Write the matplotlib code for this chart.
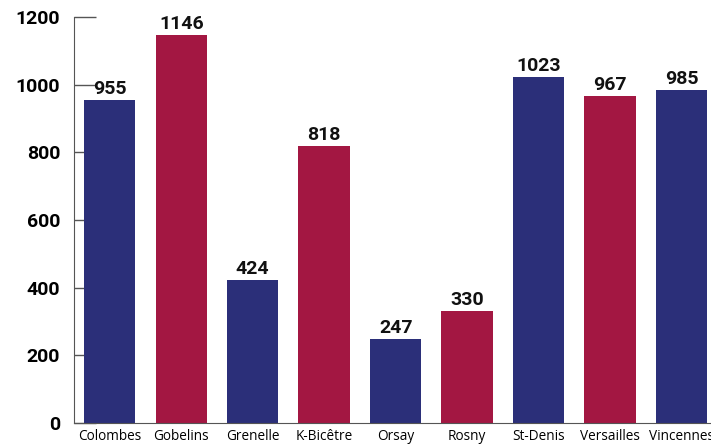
import numpy as np
import matplotlib.pyplot as plt

sites = ["Colombes", "Gobelins", "Grenelle", "K-Bicêtre", "Orsay",
         "Rosny", "St-Denis", "Versailles", "Vincennes"]
values = [955, 1146, 424, 818, 247, 330, 1023, 967, 985]
blue = "#2b2f79"
red = "#a31742"
colors = [blue, red, blue, red, blue, red, blue, red, blue]

fig = plt.figure(figsize=(7.11, 4.45), dpi=100)
ax = fig.add_axes([74 / 711, 22 / 445, 1 - 74 / 711, 406 / 445])
ax.set_axisbelow(True)

x = np.arange(len(sites))
bars = ax.bar(x, values, width=0.72, color=colors, zorder=2)
for xi, v in zip(x, values):
    ax.text(xi, v + 6, str(v), ha="center", va="bottom",
            fontsize=14, fontweight="bold", family="Roboto", color="#111111")

ax.set_xlim(-0.5, 8.41)
ax.set_ylim(0, 1200)
ax.set_yticks(range(0, 1201, 200))
ax.set_yticklabels([str(t) for t in range(0, 1201, 200)],
                   fontsize=14, fontweight="bold", family="Roboto")
ax.set_xticks(x)
ax.set_xticklabels(sites, fontsize=9.8, family="Open Sans")
ax.tick_params(axis="y", direction="in", length=16, width=1, color="#555555", pad=10)
ax.tick_params(axis="x", length=0, pad=4)
for s in ["top", "right"]:
    ax.spines[s].set_visible(False)
ax.spines["left"].set_color("#555555")
ax.spines["bottom"].set_color("#555555")

fig.savefig("out.png", dpi=100)
